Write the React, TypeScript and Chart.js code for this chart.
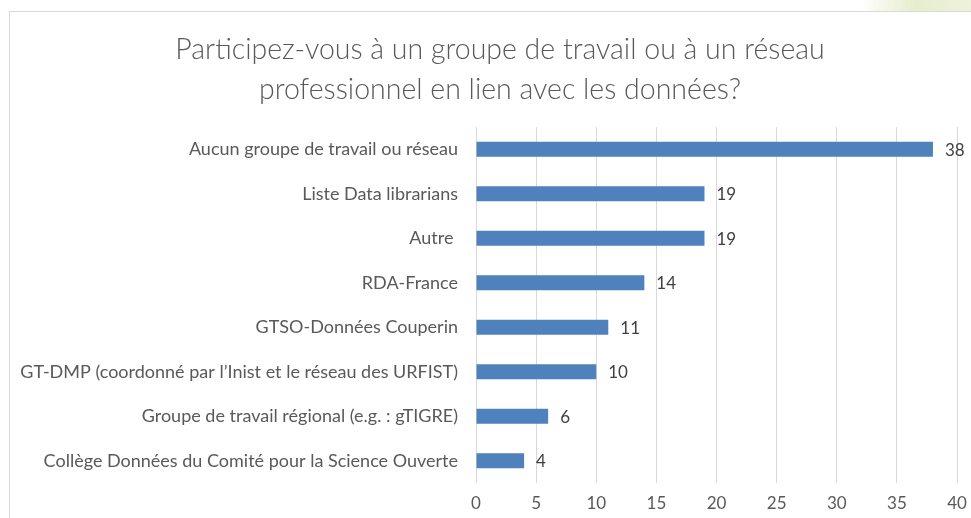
import React, { useEffect, useRef } from "react";
import { Chart, registerables } from "chart.js";

Chart.register(...registerables);

const titleLines = [
  "Participez-vous à un groupe de travail ou à un réseau",
  "professionnel en lien avec les données?",
];

const categories = [
  "Aucun groupe de travail ou réseau",
  "Liste Data librarians",
  "Autre ",
  "RDA-France",
  "GTSO-Données Couperin",
  "GT-DMP (coordonné par l’Inist et le réseau des URFIST)",
  "Groupe de travail régional (e.g. : gTIGRE)",
  "Collège Données du Comité pour la Science Ouverte",
];

const values = [38, 19, 19, 14, 11, 10, 6, 4];

const xMin = 0;
const xMax = 40;
const xStep = 5;

const FONT = "Lato, 'Open Sans', sans-serif";

const valueLabels = {
  id: "valueLabels",
  afterDatasetsDraw(chart: any) {
    const ctx = chart.ctx;
    const meta = chart.getDatasetMeta(0);
    ctx.save();
    ctx.font = `17px ${FONT}`;
    ctx.fillStyle = "#404040";
    ctx.textAlign = "left";
    ctx.textBaseline = "middle";
    meta.data.forEach((bar: any, i: number) => {
      ctx.fillText(String(values[i]), bar.x + 12, bar.y + 1);
    });
    ctx.restore();
  },
};

export default function App() {
  const ref = useRef<HTMLCanvasElement | null>(null);

  useEffect(() => {
    if (!ref.current) return;
    const chart = new Chart(ref.current, {
      type: "bar",
      data: {
        labels: categories,
        datasets: [
          {
            data: values,
            backgroundColor: "#4F81BD",
            borderWidth: 0,
            categoryPercentage: 1,
            barPercentage: 0.34,
          },
        ],
      },
      options: {
        indexAxis: "y",
        responsive: false,
        animation: false,
        layout: { padding: { left: 0, right: 14, top: 127, bottom: 0 } },
        plugins: {
          legend: { display: false },
          tooltip: { enabled: false },
          title: { display: false },
        },
        scales: {
          x: {
            min: xMin,
            max: xMax,
            ticks: {
              stepSize: xStep,
              color: "#595959",
              font: { family: FONT, size: 17 },
              padding: 10,
            },
            grid: { color: "#d9d9d9", lineWidth: 1, drawTicks: false },
            border: { display: false },
            afterFit: (s: any) => {
              s.height = 35;
              s.paddingLeft = 0;
              s.paddingRight = 0;
            },
          },
          y: {
            ticks: {
              color: "#595959",
              font: { family: FONT, size: 18 },
              padding: 18,
            },
            grid: { display: false, drawTicks: false },
            border: { display: false },
            afterFit: (s: any) => {
              s.width = 476;
              s.paddingTop = 0;
              s.paddingBottom = 0;
            },
          },
        },
      },
      plugins: [valueLabels],
    });
    return () => chart.destroy();
  }, []);

  return (
    <div style={{ position: "fixed", left: 0, top: 0, width: 971, height: 518, background: "#fff", overflow: "hidden" }}>
      <canvas ref={ref} width={971} height={518} style={{ display: "block" }} />
      <div
        style={{
          position: "absolute",
          left: 0,
          top: 28,
          width: 1000,
          textAlign: "center",
          fontFamily: FONT,
          fontWeight: 300,
          fontSize: 28.5,
          lineHeight: "40px",
          color: "#595959",
          whiteSpace: "nowrap",
        }}
      >
        {titleLines.map((t, i) => (
          <div key={i}>{t}</div>
        ))}
      </div>
      <div
        style={{
          position: "absolute",
          left: 860,
          top: 0,
          width: 111,
          height: 11,
          background: "linear-gradient(to right, rgba(235,240,215,0), #e6edcc 50%, #eef2dc)",
          pointerEvents: "none",
        }}
      />
      <div
        style={{
          position: "absolute",
          left: 9,
          top: 11,
          right: -2,
          bottom: -2,
          borderLeft: "1px solid #d9d9d9",
          borderTop: "1px solid #d9d9d9",
          pointerEvents: "none",
        }}
      />
    </div>
  );
}
